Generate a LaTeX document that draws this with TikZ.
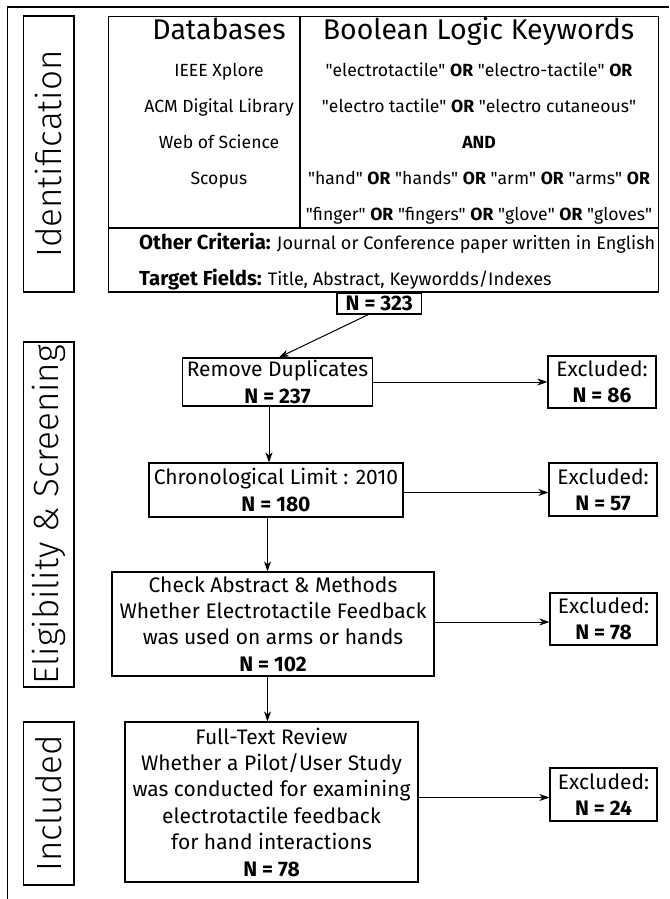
\documentclass[tikz,border=0pt]{standalone}
\usepackage{fontspec}
\setmainfont{Fira Sans}
\newfontfamily\lightfont{Fira Sans Light}
\newfontfamily\qfont{Fira Sans}
\usetikzlibrary{arrows.meta}
\newcommand{\boxfont}{\fontsize{21}{26.4}\selectfont}
\newcommand{\tabfont}{\fontsize{17.6}{17.6}\selectfont}
\newcommand{\qt}[1]{{\qfont"}#1{\qfont"}}
\begin{document}
\begin{tikzpicture}[x=1pt,y=-1pt,
  frame/.style={line width=1.2pt},
  box/.style={draw, line width=1.2pt, inner sep=0pt, align=center, font=\boxfont},
  arr/.style={line width=1pt, -{Stealth[length=10pt,width=7pt,inset=3pt]}},
  lbl/.style={draw, line width=1.2pt, inner sep=0pt, rotate=90, font=\lightfont\fontsize{35}{35}\selectfont},
  txt/.style={inner sep=0pt, anchor=base, font=\tabfont},
  hdr/.style={inner sep=0pt, anchor=base, font=\fontsize{28.5}{28.5}\selectfont}]
\useasboundingbox (0,0) rectangle (669,899);
% outer frame
\coordinate (fb) at (7.7,899);
\coordinate (fc) at (7.7,7);
\coordinate (fr) at (669,7);
\draw[frame] (fb) -- (fc) -- (fr);
% side labels
\node[lbl, minimum width=276, minimum height=50.5] (lid) at (48.75,154) {Identification};
\node[lbl, minimum width=345, minimum height=50.5] (lel) at (48.75,514.5) {Eligibility \& Screening};
\node[lbl, minimum width=163, minimum height=50.5] (lin) at (48.75,803.5) {Included};
% table
\node[draw, line width=1.2pt, inner sep=0pt, minimum width=549.5, minimum height=275.3] (tbl) at (383.55,154.35) {};
\coordinate (dv) at (300,228);
\draw[frame] (tbl.north -| dv) -- (dv);
\draw[frame] (tbl.west |- dv) -- (tbl.east |- dv);
\node[hdr] (hdb) at (219,39.5) {Databases};
\node[hdr] (hkw) at (478.5,39.5) {Boolean Logic Keywords};
\node[txt] (db1) at (219,76) {IEEE Xplore};
\node[txt] (db2) at (219,112) {ACM Digital Library};
\node[txt] (db3) at (219,148) {Web of Science};
\node[txt] (db4) at (219,184) {Scopus};
\node[txt] (kw1) at (479,76.5) {\qt{electrotactile} \textbf{OR} \qt{electro-tactile} \textbf{OR}};
\node[txt] (kw2) at (479,112.5) {\qt{electro tactile} \textbf{OR} \qt{electro cutaneous}};
\node[txt] (kw3) at (479,148.5) {\textbf{AND}};
\node[txt] (kw4) at (479,184.5) {\qt{hand} \textbf{OR} \qt{hands} \textbf{OR} \qt{arm} \textbf{OR} \qt{arms} \textbf{OR}};
\node[txt] (kw5) at (479,220.5) {\qt{finger} \textbf{OR} \qt{fingers} \textbf{OR} \qt{glove} \textbf{OR} \qt{gloves}};
\node[txt, anchor=base west] (oc) at (139,249) {{\bfseries\fontsize{20.3}{20.3}\selectfont Other Criteria:} {\fontsize{18.1}{18.1}\selectfont Journal or Conference paper written in English}};
\node[txt, anchor=base west] (tf) at (139,285) {{\bfseries\fontsize{20.3}{20.3}\selectfont Target Fields:} {\fontsize{18.1}{18.1}\selectfont Title, Abstract, Keywordds/Indexes}};
% flow boxes
\node[box, minimum width=84.5, minimum height=21] (n0) at (379.25,303.5) {\textbf{N = 323}};
\node[box, minimum width=190, minimum height=48] (rd) at (277.5,382) {Remove Duplicates\\\textbf{N = 237}};
\node[box, minimum width=254, minimum height=54] (chr) at (276,490) {Chronological Limit : 2010\\\textbf{N = 180}};
\node[box, minimum width=322, minimum height=104] (chk) at (273,624) {Check Abstract \& Methods\\Whether Electrotactile Feedback\\was used on arms or hands\\\textbf{N = 102}};
\node[box, minimum width=293, minimum height=160] (ft) at (271.5,802) {Full-Text Review\\Whether a Pilot/User Study\\was conducted for examining\\electrotactile feedback\\for hand interactions\\\textbf{N = 78}};
\node[box, minimum width=108, minimum height=52] (ex1) at (602,382) {Excluded:\\\textbf{N = 86}};
\node[box, minimum width=108, minimum height=53] (ex2) at (603,489.5) {Excluded:\\\textbf{N = 57}};
\node[box, minimum width=107, minimum height=52] (ex3) at (603.5,619) {Excluded:\\\textbf{N = 78}};
\node[box, minimum width=107, minimum height=53] (ex4) at (603.5,794.5) {Excluded:\\\textbf{N = 24}};
% connector end points
\coordinate (a0) at ([xshift=-11pt]n0.south);
\coordinate (b0) at ([xshift=1.5pt]rd.north);
\coordinate (a1) at ([xshift=-8.5pt]rd.south);
\coordinate (a2) at ([xshift=-8.5pt]chr.south);
\coordinate (a3) at ([xshift=-5.5pt]chk.south);
\coordinate (e2) at ([yshift=-3pt]ex2.west);
\coordinate (e3) at ([yshift=-3pt]ex3.west);
\coordinate (e4) at ([yshift=-3pt]ex4.west);
% connectors
\draw[arr] (a0) -- (b0);
\draw[arr] (a1) -- (a1 |- chr.north);
\draw[arr] (a2) -- (a2 |- chk.north);
\draw[arr] (a3) -- (a3 |- ft.north);
\draw[arr] (rd.east |- ex1.west) -- (ex1.west);
\draw[arr] (chr.east |- e2) -- (e2);
\draw[arr] (chk.east |- e3) -- (e3);
\draw[arr] (ft.east |- e4) -- (e4);
\end{tikzpicture}
\end{document}
